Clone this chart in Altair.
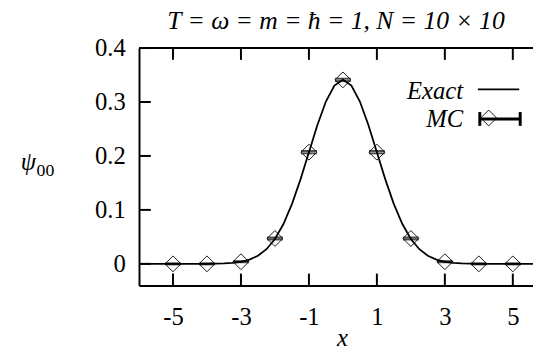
import altair as alt
import pandas as pd

# MC samples (points with small vertical error bars)
mc_x = [-5, -4, -3, -2, -1, 0, 1, 2, 3, 4, 5]
mc_y = [0.0, 0.0, 0.004, 0.047, 0.207, 0.341, 0.207, 0.047, 0.004, 0.0, 0.0]
mc_err = [0.001, 0.001, 0.001, 0.0018, 0.0022, 0.0022, 0.0022, 0.0018, 0.001, 0.001, 0.001]

# Exact curve
exact_x = [-6.0, -5.75, -5.5, -5.25, -5.0, -4.75, -4.5, -4.25, -4.0, -3.75, -3.5, -3.25,
           -3.0, -2.75, -2.5, -2.25, -2.0, -1.75, -1.5, -1.25, -1.0, -0.75, -0.5, -0.25,
           0.0, 0.25, 0.5, 0.75, 1.0, 1.25, 1.5, 1.75, 2.0, 2.25, 2.5, 2.75, 3.0, 3.25,
           3.5, 3.75, 4.0, 4.25, 4.5, 4.75, 5.0, 5.25, 5.5, 5.75, 6.0]
exact_y = [0, 0, 0, 0, 0, 0, 0, 0, 0.0001, 0.0003, 0.0007, 0.0017,
           0.0038, 0.0078, 0.0150, 0.0271, 0.0461, 0.0738, 0.1107, 0.1561, 0.2068, 0.2574, 0.3009, 0.3305,
           0.341, 0.3305, 0.3009, 0.2574, 0.2068, 0.1561, 0.1107, 0.0738, 0.0461, 0.0271, 0.0150, 0.0078,
           0.0038, 0.0017, 0.0007, 0.0003, 0.0001, 0, 0, 0, 0, 0, 0, 0, 0]

x_ticks = [-5, -3, -1, 1, 3, 5]
y_ticks = [0.0, 0.1, 0.2, 0.3, 0.4]
legend_labels = ["Exact", "MC"]
title_text = "T = ω = m = ħ = 1, N = 10 × 10"
y_title = ["ψ", "00"]
x_title = "x"

W, H = 400, 241
XDOM = [-6.0, 5.594]
YDOM = [-0.04, 0.4]
FONT = "Liberation Serif"
FS = 25

xs = alt.Scale(domain=XDOM, nice=False, zero=False)
ys = alt.Scale(domain=YDOM, nice=False, zero=False)

xaxis = alt.Axis(
    values=x_ticks, ticks=False, grid=False, domain=True, domainColor="black",
    domainWidth=2, labelFont=FONT, labelFontSize=FS, labelColor="black",
    labelPadding=20, labelExpr="(datum.value < 0 ? '-' : '') + abs(datum.value)",
    title=x_title, titleFont=FONT, titleFontSize=FS, titleFontStyle="italic",
    titleFontWeight="normal", titleColor="black",
    titleX=206, titleY=53, titleBaseline="middle")
yaxis = alt.Axis(
    values=y_ticks, ticks=False, grid=False, domain=True, domainColor="black",
    domainWidth=2, labelFont=FONT, labelFontSize=FS, labelColor="black",
    labelPadding=14, labelExpr="datum.value == 0 ? '0' : format(datum.value, '.1f')",
    title="")

mc = pd.DataFrame({"x": mc_x, "y": mc_y, "lo": [a - b for a, b in zip(mc_y, mc_err)],
                   "hi": [a + b for a, b in zip(mc_y, mc_err)]})
ex = pd.DataFrame({"x": exact_x, "y": exact_y})
xt = pd.DataFrame({"x": x_ticks})
yt = pd.DataFrame({"y": y_ticks})

X = alt.X("x:Q", scale=xs, axis=xaxis)
Y = alt.Y("y:Q", scale=ys, axis=yaxis)

exact_line = alt.Chart(ex).mark_line(color="black", strokeWidth=1.8, clip=True).encode(x=X, y=Y)

err_rule = alt.Chart(mc).mark_rule(color="black", strokeWidth=1.5).encode(
    x=X, y=alt.Y("lo:Q", scale=ys, axis=yaxis), y2="hi:Q")
cap_lo = alt.Chart(mc).mark_tick(color="black", orient="horizontal", size=16, thickness=2).encode(
    x=X, y=alt.Y("lo:Q", scale=ys, axis=yaxis))
cap_hi = alt.Chart(mc).mark_tick(color="black", orient="horizontal", size=16, thickness=2).encode(
    x=X, y=alt.Y("hi:Q", scale=ys, axis=yaxis))
points = alt.Chart(mc).mark_point(shape="diamond", size=260, filled=False, color="black",
                                  strokeWidth=0.9, opacity=1).encode(x=X, y=Y)

# frame ticks (inward) and top frame line
bt = alt.Chart(xt).mark_rule(color="black", strokeWidth=2).encode(
    x=X, y=alt.value(H - 12), y2=alt.value(H))
tt = alt.Chart(xt).mark_rule(color="black", strokeWidth=2).encode(
    x=X, y=alt.value(0), y2=alt.value(12))
lt = alt.Chart(yt).mark_rule(color="black", strokeWidth=2).encode(
    y=Y, x=alt.value(0), x2=alt.value(12))

one = pd.DataFrame({"e": [legend_labels[0]], "m": [legend_labels[1]],
                    "psi": [y_title[0]], "sub": [y_title[1]]})
top_frame = alt.Chart(one).mark_rule(color="black", strokeWidth=2).encode(
    x=alt.value(0), x2=alt.value(W), y=alt.value(0))

# y-axis title (psi with subscript)
psi = alt.Chart(one).mark_text(font=FONT, fontSize=FS, fontStyle="italic", align="left",
                               baseline="alphabetic", color="black").encode(
    text="psi:N", x=alt.value(-120), y=alt.value(124))
psi_sub = alt.Chart(one).mark_text(font=FONT, fontSize=18, align="left",
                                   baseline="alphabetic", color="black").encode(
    text="sub:N", x=alt.value(-104), y=alt.value(130))

# legend
leg_t1 = alt.Chart(one).mark_text(font=FONT, fontSize=FS, fontStyle="italic", align="right",
                                  baseline="middle", color="black").encode(
    text="e:N", x=alt.value(329), y=alt.value(44))
leg_t2 = alt.Chart(one).mark_text(font=FONT, fontSize=FS, fontStyle="italic", align="right",
                                  baseline="middle", color="black").encode(
    text="m:N", x=alt.value(329), y=alt.value(72))
leg_line = alt.Chart(one).mark_rule(color="black", strokeWidth=1.8).encode(
    x=alt.value(344), x2=alt.value(386), y=alt.value(42))
leg_bar = alt.Chart(one).mark_rule(color="black", strokeWidth=3).encode(
    x=alt.value(346), x2=alt.value(387), y=alt.value(72))
leg_cap1 = alt.Chart(one).mark_rule(color="black", strokeWidth=3).encode(
    x=alt.value(346), y=alt.value(65), y2=alt.value(79))
leg_cap2 = alt.Chart(one).mark_rule(color="black", strokeWidth=3).encode(
    x=alt.value(387), y=alt.value(65), y2=alt.value(79))
leg_pt = alt.Chart(one).mark_point(shape="diamond", size=260, filled=False, color="black",
                                   strokeWidth=0.9, opacity=1).encode(
    x=alt.value(355), y=alt.value(71))

chart = alt.layer(
    exact_line, points, err_rule, cap_lo, cap_hi, bt, tt, lt, top_frame, psi, psi_sub,
    leg_t1, leg_t2, leg_line, leg_bar, leg_cap1, leg_cap2, leg_pt
).properties(
    width=W, height=H,
    title=alt.Title(title_text, font=FONT, fontSize=26, fontStyle="italic", fontWeight="normal",
                    color="black", anchor="middle", offset=2),
    autosize=alt.AutoSizeParams(type="none"),
    padding={"left": 133, "top": 38, "right": 0, "bottom": 70},
).configure_view(stroke=None).configure(background="white")

chart.save("out.html", embed_options={"renderer": "svg", "actions": False})
